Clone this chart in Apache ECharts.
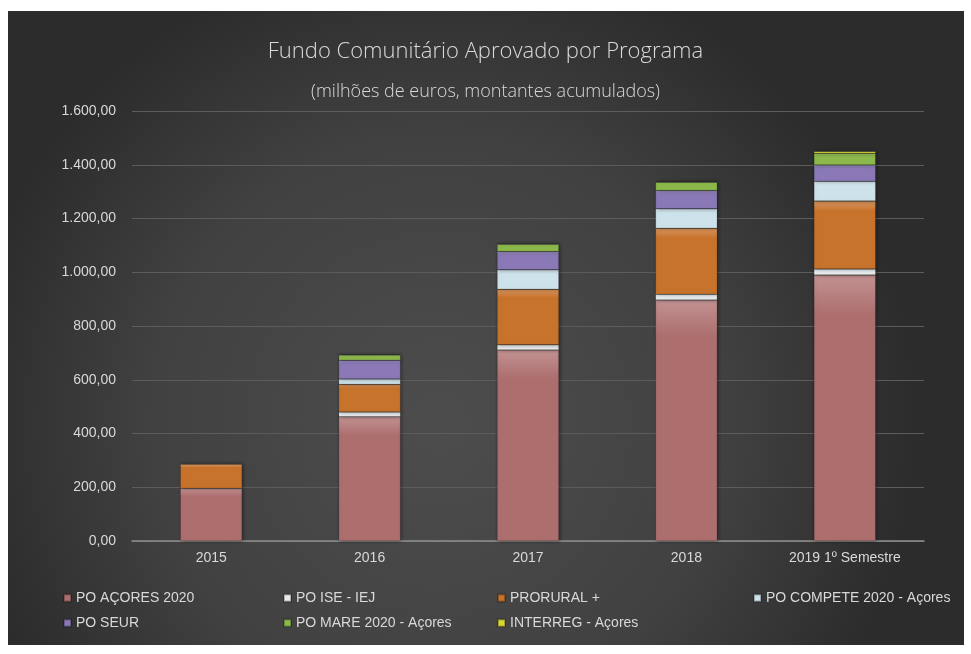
<!DOCTYPE html>
<html>
<head>
<meta charset="utf-8">
<script src="https://cdn.jsdelivr.net/npm/echarts@6/dist/echarts.min.js"></script>
<style>
  html, body { margin: 0; padding: 0; background: #fff; }
  #main { width: 971px; height: 654px; }
</style>
</head>
<body>
<div id="main"></div>
<script>
var anos = ['2015', '2016', '2017', '2018', '2019 1º Semestre'];

// valores em milhões de euros
var poAcores   = [196, 462, 711, 897, 990];
var poIse      = [0, 18, 19, 21, 22];
var prorural   = [90, 103, 207, 246, 253];
var poCompete  = [0, 20, 72, 72, 74];
var poSeur     = [0, 70, 68, 68, 60];
var poMare     = [0, 19, 27, 31, 43];
var interreg   = [0, 2, 2, 2, 7];

var yTicks = [0, 200, 400, 600, 800, 1000, 1200, 1400, 1600];

var nomes = ['PO AÇORES 2020', 'PO ISE - IEJ', 'PRORURAL +', 'PO COMPETE 2020 - Açores',
             'PO SEUR', 'PO MARE 2020 - Açores', 'INTERREG - Açores'];
var cores = ['#ad6e6e', '#e9ecee', '#c8732c', '#cde2ea', '#8a79b6', '#8cb84c', '#d9d936'];
var dados = [poAcores, poIse, prorural, poCompete, poSeur, poMare, interreg];

var font = '"Liberation Sans Narrow", "Liberation Sans", Arial, sans-serif';

function fmt(v){
    var s = v.toFixed(2).split('.');
    var int = s[0].replace(/\B(?=(\d{3})+(?!\d))/g, '.');
    return int + ',' + s[1];
}

function clarear(hex, f){
    var r = parseInt(hex.substr(1,2),16), g = parseInt(hex.substr(3,2),16), b = parseInt(hex.substr(5,2),16);
    r = Math.round(r + (255-r)*f); g = Math.round(g + (255-g)*f); b = Math.round(b + (255-b)*f);
    return 'rgb('+r+','+g+','+b+')';
}

var series = nomes.map(function(n, i){
    return {
        name: n,
        type: 'bar',
        stack: 'total',
        barWidth: '39%',
        itemStyle: {
            color: new echarts.graphic.LinearGradient(0, 0, 0, 1, [
                {offset: 0, color: clarear(cores[i], 0.25)},
                {offset: 0.15, color: cores[i]},
                {offset: 1, color: cores[i]}
            ]),
            borderColor: 'rgba(0,0,0,0.25)',
            borderWidth: 0.5,
            shadowColor: 'rgba(0,0,0,0.45)',
            shadowBlur: 4,
            shadowOffsetX: 1
        },
        data: dados[i].map(function(v){ return v === 0 ? null : v; })
    };
});

// legenda em duas linhas, com colunas como no original
var legPos = [[58, 586], [278, 586], [492, 586], [748, 586],
              [58, 611], [278, 611], [492, 611]];
var legends = nomes.map(function(n, i){
    return {
        data: [n],
        left: legPos[i][0],
        top: legPos[i][1],
        itemWidth: 7,
        itemHeight: 7,
        itemGap: 4,
        icon: 'rect',
        textStyle: { color: '#d9d9d9', fontSize: 14, fontFamily: font }
    };
});

var chart = echarts.init(document.getElementById('main'));
chart.setOption({
    animation: false,
    backgroundColor: '#ffffff',
    graphic: [{
        type: 'rect',
        silent: true,
        z: -100,
        shape: { x: 8, y: 11, width: 956, height: 634 },
        style: {
            fill: new echarts.graphic.RadialGradient(0.45, 0.65, 0.75, [
                {offset: 0, color: '#4d4d4d'},
                {offset: 0.6, color: '#414141'},
                {offset: 1, color: '#2c2c2c'}
            ])
        }
    }],
    title: [{
        text: 'Fundo Comunitário Aprovado por Programa',
        left: 'center',
        top: 36,
        textStyle: { color: '#d9d9d9', fontSize: 22, fontWeight: 300, fontFamily: '"Open Sans", sans-serif' }
    }, {
        text: '(milhões de euros, montantes acumulados)',
        left: 'center',
        top: 78,
        textStyle: { color: '#d9d9d9', fontSize: 18, fontWeight: 300, fontFamily: '"Open Sans", sans-serif' }
    }],
    legend: legends,
    grid: { left: 132, right: 47, top: 111, bottom: 113 },
    xAxis: {
        type: 'category',
        data: anos,
        axisTick: { show: false },
        axisLine: { lineStyle: { color: '#8f8f8f', width: 1.5 } },
        axisLabel: { color: '#d9d9d9', fontSize: 14, fontFamily: font, margin: 10 }
    },
    yAxis: {
        type: 'value',
        min: yTicks[0],
        max: yTicks[yTicks.length - 1],
        interval: 200,
        axisLine: { show: false },
        axisTick: { show: false },
        splitLine: { lineStyle: { color: '#5c5c5c', width: 1 } },
        axisLabel: { color: '#d9d9d9', fontSize: 14, fontFamily: font, margin: 16,
                     formatter: function(v){ return fmt(v); } }
    },
    series: series
});
</script>
</body>
</html>
